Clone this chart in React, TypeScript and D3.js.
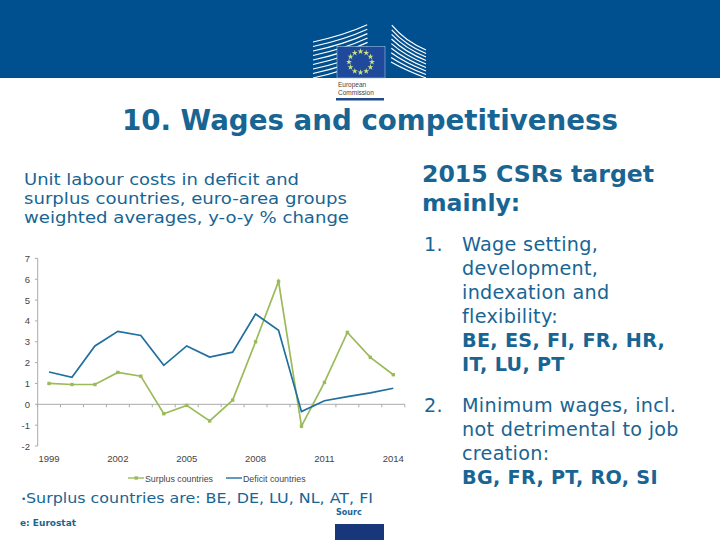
import * as d3 from 'd3';
import React from 'react';

const years = d3.range(1999, 2015);
const tickYears = [1999, 2002, 2005, 2008, 2011, 2014];
const yTicks = [-2, -1, 0, 1, 2, 3, 4, 5, 6, 7];
const surplus = [1.0, 0.95, 0.95, 1.53, 1.35, -0.45, -0.05, -0.8, 0.2, 3.0, 5.9, -1.05, 1.05, 3.45, 2.25, 1.42];
const deficit = [1.55, 1.3, 2.8, 3.5, 3.3, 1.87, 2.8, 2.27, 2.5, 4.33, 3.55, -0.35, 0.17, 0.37, 0.55, 0.77];

const subtitle = ['Unit labour costs in deficit and', 'surplus countries, euro-area groups', 'weighted averages, y-o-y % change'];
const subtitleWidths = [275, 323, 325];
const heading = ['2015 CSRs target', 'mainly:'];
const list1 = ['Wage setting,', 'development,', 'indexation and', 'flexibility:'];
const list1Bold = ['BE, ES, FI, FR, HR,', 'IT, LU, PT'];
const list2 = ['Minimum wages, incl.', 'not detrimental to job', 'creation:'];
const list2Bold = ['BG, FR, PT, RO, SI'];

const BLUE = '#004f8f';
const TEXT = '#186593';
const GREEN = '#9bbb59';
const LINE_BLUE = '#1f6f9f';
const FONT = '"DejaVu Sans", Verdana, sans-serif';

const x = d3.scalePoint<number>().domain(years).range([49, 393.3]);
const y = d3.scaleLinear().domain([-2, 7]).range([446, 258.4]);
const step = x.step();

const line = d3
  .line<number>()
  .x((_, i) => x(years[i]) ?? 0)
  .y(d => y(d));

const star = d3.symbol().type(d3.symbolStar).size(11);
const ring = d3.range(12).map(i => (i * Math.PI * 2) / 12);
const stripes = d3.range(9);

const App: React.FC = () => {
  const xLeft = (x(1999) ?? 0) - step / 2;
  const xRight = (x(2014) ?? 0) + step / 2;
  return (
    <svg width={720} height={540} style={{ position: 'absolute', left: 0, top: 0 }} fontFamily={FONT}>
      <rect width={720} height={540} fill="#fff" />
      <rect width={720} height={78} fill={BLUE} />

      {/* logo */}
      {stripes.map(i => (
        <g key={i} stroke="#fff" strokeWidth={1.2} fill="none">
          <path d={`M313 ${78 - i * 4.5}Q345 ${71 - i * 4.5} ${368 - i * 0.1} ${60 - i * 4.4}`} />
          <path d={`M426 ${78 - i * 3.5}Q405 ${70 - i * 3.6} ${391 + i * 0.1} ${62 - i * 4.6}`} />
        </g>
      ))}
      <rect x={337} y={46.5} width={48} height={31.5} fill="#1f4a9c" stroke="#9dc3e0" strokeWidth={0.6} />
      {ring.map((a, i) => (
        <path
          key={i}
          d={star() ?? ''}
          fill="#cfe27a"
          transform={`translate(${360.5 + Math.sin(a) * 11.5},${62 - Math.cos(a) * 10.5})`}
        />
      ))}
      <text x={338} y={87} fontSize={6.5} fill="#444" fontFamily="Arial, Liberation Sans">European</text>
      <text x={338} y={95} fontSize={6.5} fill="#444" fontFamily="Arial, Liberation Sans">Commission</text>
      <rect x={336} y={98} width={48} height={2.5} fill="#1f4a8c" />

      <text x={370} y={130} fontSize={27.7} fontWeight="bold" fill={TEXT} textAnchor="middle">
        10. Wages and competitiveness
      </text>

      {subtitle.map((s, i) => (
        <text key={i} x={24} y={185 + i * 19} fontSize={15.5} fill={TEXT} textLength={subtitleWidths[i]} lengthAdjust="spacingAndGlyphs">{s}</text>
      ))}

      {/* chart */}
      <g fontFamily='"Liberation Sans", Arial, sans-serif' fontSize={9.5} fill="#444">
        <line x1={37.7} x2={37.7} y1={y(7)} y2={y(-2)} stroke="#aaa" />
        <line x1={37.7} x2={xRight} y1={y(0)} y2={y(0)} stroke="#aaa" />
        {yTicks.map(t => (
          <g key={t}>
            <line x1={35} x2={37.7} y1={y(t)} y2={y(t)} stroke="#aaa" />
            <text x={30} y={y(t) + 3.5} textAnchor="end">{t}</text>
          </g>
        ))}
        {d3.range(years.length + 1).map(i => (
          <line key={i} x1={xLeft + i * step} x2={xLeft + i * step} y1={y(0)} y2={y(0) + 3} stroke="#aaa" />
        ))}
        {tickYears.map(t => (
          <text key={t} x={x(t)} y={462} textAnchor="middle">{t}</text>
        ))}

        <path d={line(surplus) ?? ''} fill="none" stroke={GREEN} strokeWidth={1.7} />
        {surplus.map((v, i) => (
          <rect key={i} x={(x(years[i]) ?? 0) - 1.7} y={y(v) - 1.7} width={3.4} height={3.4} fill={GREEN} />
        ))}
        <path d={line(deficit) ?? ''} fill="none" stroke={LINE_BLUE} strokeWidth={1.7} />

        <line x1={128} x2={144} y1={478} y2={478} stroke={GREEN} strokeWidth={1.4} />
        <rect x={134.5} y={476.3} width={3.4} height={3.4} fill={GREEN} />
        <text x={145} y={481.5} fontSize={8.8}>Surplus countries</text>
        <line x1={226} x2={242} y1={478} y2={478} stroke={LINE_BLUE} strokeWidth={1.4} />
        <text x={243} y={481.5} fontSize={8.8}>Deficit countries</text>
      </g>

      <text x={21} y={502} fontSize={9} fill={TEXT}>•</text>
      <text x={26} y={503} fontSize={14} fill={TEXT} textLength={347} lengthAdjust="spacingAndGlyphs">Surplus countries are: BE, DE, LU, NL, AT, FI</text>
      <text x={336} y={515} fontSize={8} fontWeight="bold" fill={TEXT}>Sourc</text>
      <text x={20} y={526} fontSize={9} fontWeight="bold" fill={TEXT}>e: Eurostat</text>
      <rect x={335} y={524} width={49} height={16} fill="#17377a" />

      {/* right column */}
      {heading.map((s, i) => (
        <text key={i} x={422} y={182 + i * 29} fontSize={23.6} fontWeight="bold" fill={TEXT}>{s}</text>
      ))}
      <g fontSize={19.2} fill={TEXT} letterSpacing={0.3}>
        <text x={424} y={251}>1.</text>
        {list1.map((s, i) => (
          <text key={i} x={462} y={251 + i * 24}>{s}</text>
        ))}
        {list1Bold.map((s, i) => (
          <text key={i} x={462} y={347 + i * 24} fontWeight="bold">{s}</text>
        ))}
        <text x={424} y={412}>2.</text>
        {list2.map((s, i) => (
          <text key={i} x={462} y={412 + i * 24}>{s}</text>
        ))}
        {list2Bold.map((s, i) => (
          <text key={i} x={462} y={484 + i * 24} fontWeight="bold">{s}</text>
        ))}
      </g>
    </svg>
  );
};

export default App;
